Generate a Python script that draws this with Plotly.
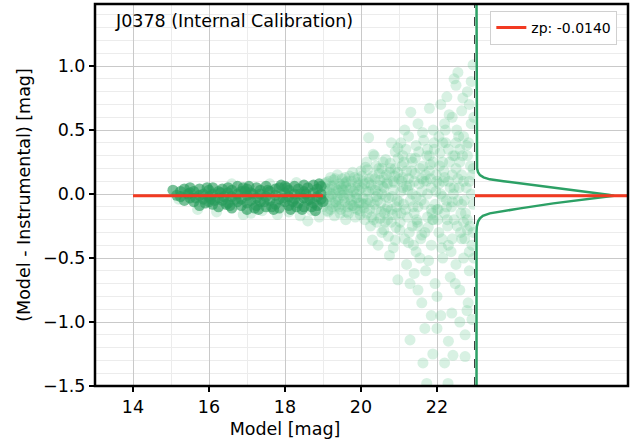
import plotly.graph_objects as go

# zero point of the calibration
zp = -0.0140
zp_mag_range = [14, 19]
mag_cut = 23

# bright stars used for the fit (dark points)
dark_mag = [15.05, 15.25, 15.25, 15.35, 15.35, 15.5, 15.5, 15.5, 15.6, 15.6,
            15.75, 15.75, 15.75, 15.85, 15.85, 16.0, 16.0, 16.0, 16.1, 16.1,
            16.1, 16.25, 16.25, 16.25, 16.35, 16.35, 16.5, 16.5, 16.5, 16.6,
            16.6, 16.6, 16.75, 16.75, 16.75, 16.85, 16.85, 16.85, 17.0, 17.0,
            17.0, 17.0, 17.1, 17.1, 17.25, 17.25, 17.25, 17.35, 17.35, 17.35,
            17.5, 17.5, 17.5, 17.6, 17.6, 17.75, 17.75, 17.75, 17.85, 17.85,
            17.85, 18.0, 18.0, 18.0, 18.1, 18.1, 18.1, 18.25, 18.25, 18.25,
            18.35, 18.35, 18.5, 18.5, 18.5, 18.5, 18.6, 18.6, 18.75, 18.75,
            18.75, 18.85, 18.85, 18.85, 18.95, 18.95, 18.95,
            15.15, 15.45, 15.65, 15.95, 16.05, 16.3, 16.45, 16.7, 16.95, 17.05,
            17.2, 17.45, 17.55, 17.7, 17.95, 18.05, 18.2, 18.45, 18.55, 18.7,
            18.9, 19.0, 16.15, 16.55, 16.9, 17.3, 17.65, 18.15, 18.4, 18.8,
            15.9, 16.4, 17.15, 17.9, 18.3, 18.65]
dark_dmag = [0.03, 0.02, -0.02, 0.04, -0.05, 0.01, -0.03, 0.05, -0.06, 0.02,
             0.04, -0.01, -0.09, 0.0, -0.04, 0.03, -0.02, -0.06, 0.05, -0.08,
             0.0, -0.03, 0.02, -0.1, 0.04, -0.05, 0.01, -0.07, 0.05, -0.02,
             -0.11, 0.03, 0.0, -0.06, 0.06, -0.04, 0.02, -0.09, 0.04, -0.01,
             -0.07, -0.12, 0.01, -0.05, 0.05, -0.03, -0.09, 0.0, -0.06, 0.03,
             -0.02, 0.06, -0.1, 0.02, -0.05, -0.08, 0.04, -0.01, 0.05, -0.04,
             -0.11, 0.01, -0.06, 0.06, -0.02, 0.03, -0.09, 0.06, -0.04, 0.0,
             -0.07, 0.04, 0.02, -0.03, 0.07, -0.1, -0.05, 0.05, 0.01, -0.07,
             0.07, -0.02, 0.04, -0.09, 0.06, -0.04, 0.0,
             -0.01, 0.0, -0.03, 0.05, -0.04, 0.01, -0.08, -0.04, 0.02, 0.06,
             -0.11, -0.06, 0.03, -0.12, -0.03, 0.05, -0.06, -0.12, 0.0, -0.1,
             0.08, -0.06, -0.05, -0.09, 0.05, -0.12, -0.1, -0.12, 0.0, -0.13,
             -0.07, -0.02, 0.0, 0.07, -0.1, -0.04]

# all stars (light points)
light_mag = [15.2, 15.7, 16.2, 16.6, 17.1, 17.4, 17.8, 18.1, 18.4, 18.7, 18.9, 17.6, 18.3, 16.9, 18.6,
             19.05, 19.1, 19.15, 19.2, 19.25, 19.3, 19.35, 19.4, 19.45, 19.5, 19.55, 19.6, 19.65, 19.7,
             19.75, 19.8, 19.85, 19.9, 19.95, 19.3, 19.6, 19.2, 19.45, 19.75, 19.9, 19.1, 19.5, 19.85, 19.0,
             20.0, 20.05, 20.1, 20.15, 20.2, 20.2, 20.25, 20.3, 20.35, 20.4, 20.45, 20.5, 20.5, 20.55,
             20.6, 20.65, 20.7, 20.75, 20.8, 20.85, 20.9, 20.9, 20.95, 21.0, 20.15, 20.4, 20.6, 20.8,
             20.3, 20.7, 20.97, 20.97, 20.85, 20.55, 20.1, 20.65, 20.35, 20.75, 20.9, 20.45,
             21.05, 21.1, 21.1, 21.15, 21.2, 21.2, 21.25, 21.3, 21.31, 21.35, 21.35, 21.4, 21.45, 21.45,
             21.5, 21.5, 21.55, 21.6, 21.6, 21.65, 21.7, 21.7, 21.75, 21.8, 21.8, 21.85, 21.85, 21.9,
             21.95, 21.95, 21.29, 21.29, 21.63, 21.73, 21.6, 21.4, 21.15, 21.55, 21.75, 21.25, 21.9,
             21.05, 21.5, 21.85, 21.89, 21.68,
             22.0, 22.0, 22.05, 22.05, 22.1, 22.1, 22.15, 22.15, 22.2, 22.2, 22.2, 22.26, 22.3, 22.3,
             22.35, 22.35, 22.39, 22.4, 22.4, 22.42, 22.45, 22.5, 22.5, 22.5, 22.55, 22.55, 22.6, 22.6,
             22.65, 22.65, 22.7, 22.7, 22.74, 22.74, 22.75, 22.79, 22.8, 22.8, 22.85, 22.85, 22.9, 22.9,
             22.92, 22.95, 22.95, 22.95, 22.29, 22.0, 22.45, 22.6, 22.9, 22.3, 22.85, 22.1, 22.5, 22.25,
             22.7, 22.8, 22.15, 22.65, 22.4,
             19.15, 19.35, 19.55, 19.7, 19.95, 20.05, 20.25, 20.45, 20.65, 20.85, 21.05, 21.25, 21.45,
             21.65, 21.85, 22.05, 22.25, 22.45, 22.65, 22.85, 19.25, 19.65, 20.15, 20.55, 20.95, 21.35,
             21.75, 22.15, 22.55, 22.95,
             19.05, 19.12, 19.18, 19.22, 19.28, 19.33, 19.38, 19.42, 19.48, 19.52, 19.58, 19.62, 19.68,
             19.72, 19.78, 19.82, 19.88, 19.92, 19.98,
             20.02, 20.08, 20.12, 20.18, 20.22, 20.28, 20.32, 20.38, 20.42, 20.48, 20.52, 20.58, 20.62,
             20.68, 20.72, 20.78, 20.82, 20.88, 20.92, 20.98,
             21.02, 21.08, 21.12, 21.18, 21.22, 21.28, 21.32, 21.38, 21.42, 21.48, 21.52, 21.58, 21.62,
             21.68, 21.72, 21.78, 21.82, 21.88, 21.92, 21.98,
             22.02, 22.08, 22.12, 22.18, 22.22, 22.28, 22.32, 22.38, 22.42, 22.48, 22.52, 22.58, 22.62,
             22.68, 22.72, 22.78, 22.82, 22.88, 22.92, 22.97,
             19.4, 19.6, 19.8, 20.0, 20.2, 20.4, 20.6, 20.8, 21.0, 21.2, 21.4, 21.6, 21.8, 22.0, 22.2,
             22.4, 22.6, 22.8, 19.5, 19.9, 20.3, 20.7, 21.1, 21.5, 21.9, 22.3, 22.7,
             19.03, 19.08, 19.13, 19.17, 19.23, 19.27, 19.32, 19.37, 19.43, 19.47, 19.53, 19.57, 19.63,
             19.67, 19.73, 19.77, 19.83, 19.87, 19.93, 19.97,
             20.03, 20.07, 20.13, 20.17, 20.23, 20.27, 20.33, 20.37, 20.43, 20.47, 20.53, 20.57, 20.63,
             20.67, 20.73, 20.77, 20.83, 20.87, 20.93, 20.97,
             21.03, 21.07, 21.13, 21.17, 21.23, 21.27, 21.33, 21.37, 21.43, 21.47, 21.53, 21.57, 21.63,
             21.67, 21.73, 21.77, 21.83, 21.87, 21.93, 21.97,
             22.03, 22.07, 22.13, 22.17, 22.23, 22.27, 22.33, 22.37, 22.43, 22.47, 22.53, 22.57, 22.63,
             22.67, 22.73, 22.77, 22.83, 22.87, 22.93, 22.97]
light_dmag = [-0.04, -0.12, -0.14, 0.08, -0.15, -0.13, -0.16, -0.14, -0.17, -0.13, -0.18, 0.08, 0.09, -0.16, -0.21,
              0.05, -0.06, 0.1, -0.12, 0.0, 0.07, -0.09, 0.03, -0.15, 0.12, -0.03, 0.06, -0.1, 0.14,
              -0.05, 0.02, -0.18, 0.09, -0.07, -0.17, -0.2, 0.13, 0.01, 0.1, -0.12, 0.02, -0.08, 0.05, -0.1,
              0.18, -0.03, 0.08, -0.15, 0.44, 0.02, -0.25, 0.14, -0.08, 0.22, 0.0, -0.19, 0.11, -0.3,
              0.05, 0.27, -0.1, 0.17, -0.22, 0.03, 0.33, -0.36, -0.05, 0.12, 0.25, -0.12, -0.28, 0.4,
              -0.36, 0.08, 0.36, -0.67, -0.42, 0.2, -0.2, -0.02, 0.3, -0.48, 0.2, -0.4,
              -0.15, 0.3, 0.05, -0.35, 0.18, -0.55, 0.45, -0.05, 0.64, 0.25, -0.25, 0.1, -0.45, 0.38,
              -0.1, 0.55, 0.2, -0.32, 0.02, 0.42, -0.6, 0.15, -0.18, 0.67, 0.3, -0.4, 0.05, 0.5,
              -0.08, -0.7, -0.7, -1.14, -1.32, -1.48, -0.85, -0.62, 0.5, -0.5, 0.35, -0.38, 0.25,
              0.4, -0.75, -0.95, -1.25, -1.05,
              0.1, -0.8, 0.45, -0.3, 0.0, 0.7, -0.5, 0.25, -0.15, 0.55, -1.32, 0.76, 0.35, -0.4,
              0.05, -0.65, -0.93, 0.6, 0.15, -1.26, -0.2, 0.85, 0.4, -0.55, 0.95, -0.05, 0.25, -0.75,
              0.65, -0.35, 0.1, 0.45, -1.1, -1.27, -0.15, -0.91, 0.8, 0.3, -0.45, -0.6, 0.55, 0.0,
              -0.98, 1.01, 0.2, -0.3, -1.48, -1.05, 0.9, -1.0, 0.88, -1.15, 0.7, -0.95, 0.2, -0.05,
              -0.5, -0.2, 0.4, 0.15, -0.35,
              -0.02, 0.04, 0.08, -0.02, 0.03, 0.1, -0.06, 0.07, -0.12, 0.1, 0.02, 0.12, -0.02,
              0.1, -0.12, 0.08, -0.1, 0.05, -0.08, 0.1, -0.1, 0.0, -0.07, 0.0, -0.15, 0.0,
              0.0, -0.02, 0.12, -0.08,
              0.08, -0.13, 0.04, -0.02, 0.11, -0.06, 0.15, -0.1, 0.06, -0.01, 0.13, -0.14, 0.03,
              -0.08, 0.17, -0.11, 0.0, 0.12, -0.16,
              0.05, -0.11, 0.21, -0.04, 0.12, -0.18, 0.31, 0.03, -0.22, 0.16, -0.07, 0.25, -0.15,
              0.09, -0.33, 0.2, -0.02, 0.14, -0.26, 0.28,
              -0.28, 0.22, -0.08, 0.35, -0.18, 0.07, 0.28, -0.4, 0.16, -0.22, 0.33, -0.05, 0.48,
              -0.3, 0.1, -0.52, 0.23, -0.2, 0.4, 0.15,
              -0.2, 0.32, -0.42, 0.18, 0.5, -0.25, 0.62, -0.1, 0.3, -0.7, 0.5, 0.05, -0.3,
              0.75, -0.05, 0.38, -0.85, 0.22, -0.4, 0.6,
              -0.04, 0.09, -0.09, -0.07, 0.09, -0.02, 0.13, -0.12, -0.06, 0.06, -0.15, 0.12, 0.18, -0.12, 0.13,
              -0.06, 0.35, -0.28, 0.04, -0.03, 0.04, -0.2, 0.13, -0.25, -0.2, 0.1, -0.22,
              -0.05, 0.09, -0.14, 0.01, 0.06, -0.07, 0.12, -0.02, 0.08, -0.12, 0.03, -0.06, 0.1,
              -0.15, 0.05, -0.09, 0.13, -0.03, 0.07, -0.13,
              0.14, -0.08, 0.02, 0.19, -0.12, 0.07, -0.2, 0.12, -0.05, 0.2, -0.14, 0.06, -0.22,
              0.15, -0.03, 0.24, -0.16, 0.09, -0.1, 0.17,
              -0.22, 0.1, 0.25, -0.12, 0.03, -0.3, 0.18, -0.1, 0.28, -0.2, 0.08, -0.35, 0.22,
              -0.08, 0.3, -0.26, 0.12, -0.15, 0.35, 0.02,
              -0.12, 0.22, -0.35, 0.1, 0.4, -0.2, 0.25, -0.45, 0.0, 0.3, -0.25, 0.45, -0.15,
              0.3, -0.35, 0.05, 0.4, -0.25, 0.15, -0.5]

# distribution of residuals (side panel)
dist_dmag = [1.485, 0.26, 0.2, 0.17, 0.148, 0.13, 0.115, 0.1, 0.084, 0.052, 0.021, -0.005, -0.014,
             -0.025, -0.034, -0.073, -0.112, -0.13, -0.151, -0.17, -0.19, -0.215, -0.255, -0.3, -1.5]
dist_dens = [0.004, 0.004, 0.008, 0.015, 0.029, 0.055, 0.1, 0.2, 0.32, 0.56, 0.8, 0.96, 1.0,
             0.92, 0.83, 0.56, 0.32, 0.2, 0.1, 0.05, 0.029, 0.015, 0.006, 0.004, 0.004]

FONT = "DejaVu Sans"
green = "#2ca065"
red = "#f23a22"

fig = go.Figure()

fig.add_trace(go.Scatter(x=light_mag, y=light_dmag, mode="markers", showlegend=False,
                         marker=dict(size=11, color="rgba(100,200,145,0.25)", line=dict(width=0)),
                         xaxis="x", yaxis="y"))
fig.add_trace(go.Scatter(x=dark_mag, y=dark_dmag, mode="markers", showlegend=False,
                         marker=dict(size=11, color="rgba(38,155,90,0.62)", line=dict(width=0)),
                         xaxis="x", yaxis="y"))
fig.add_trace(go.Scatter(x=zp_mag_range, y=[zp, zp], mode="lines", name=f"zp: {zp:.4f}",
                         line=dict(color=red, width=3), xaxis="x", yaxis="y"))

# side panel
fig.add_trace(go.Scatter(x=dist_dens, y=dist_dmag, mode="lines", showlegend=False,
                         line=dict(color=green, width=2.5), xaxis="x2", yaxis="y2"))
fig.add_trace(go.Scatter(x=[-0.01, 1.2], y=[zp, zp], mode="lines", showlegend=False,
                         line=dict(color=red, width=3), xaxis="x2", yaxis="y2"))

split = 380 / 533
grid_major = "#c9c9c9"
grid_minor = "#ececec"
yrange = [-1.5, 1.485]
tickfont = dict(family=FONT, size=17.5, color="black")

fig.update_layout(
    width=641, height=442,
    margin=dict(l=95, r=13, t=4, b=56),
    paper_bgcolor="white", plot_bgcolor="white",
    font=dict(family=FONT, size=17.5, color="black"),
    xaxis=dict(domain=[0, split], range=[13, 23], tick0=14, dtick=2, tickfont=tickfont,
               ticks="outside", ticklen=5, tickwidth=1.5, tickcolor="black",
               showgrid=True, gridcolor=grid_major, gridwidth=1, zeroline=False,
               minor=dict(dtick=1, tick0=13, showgrid=True, gridcolor=grid_minor, ticks=""),
               title=dict(text="Model [mag]", standoff=6, font=dict(family=FONT, size=17.5)),
               automargin=False),
    yaxis=dict(range=yrange, tick0=0, dtick=0.5, tickformat=".1f", tickfont=tickfont,
               ticks="outside", ticklen=5, tickwidth=1.5, tickcolor="black",
               showgrid=True, gridcolor=grid_major, gridwidth=1, zeroline=False,
               minor=dict(dtick=0.1, showgrid=True, gridcolor=grid_minor, ticks=""),
               title=dict(text="(Model - Instrumental) [mag]", standoff=7,
                          font=dict(family=FONT, size=17.5)),
               automargin=False),
    xaxis2=dict(domain=[split, 1], range=[-0.007, 1.101], showgrid=False, zeroline=False,
                showticklabels=False, ticks="", anchor="y2"),
    yaxis2=dict(range=yrange, anchor="x2", matches="y", tick0=0, dtick=0.5,
                showticklabels=False, ticks="", showgrid=True, gridcolor=grid_major, gridwidth=1,
                zeroline=False,
                minor=dict(dtick=0.1, showgrid=True, gridcolor=grid_minor, ticks="")),
    legend=dict(x=0.98, y=0.982, xanchor="right", yanchor="top", bgcolor="white",
                bordercolor="#d0d0d0", borderwidth=1, font=dict(size=14), itemwidth=30),
    annotations=[dict(text="J0378 (Internal Calibration)", xref="paper", yref="paper",
                      x=0.034, y=0.955, xanchor="left", yanchor="middle", showarrow=False,
                      font=dict(size=17.5))],
    shapes=[
        dict(type="line", xref="x", yref="paper", x0=mag_cut, x1=mag_cut, y0=0, y1=1,
             line=dict(color="black", width=1.5, dash="dash"), layer="above"),
        dict(type="rect", xref="paper", yref="paper", x0=0, x1=1, y0=0, y1=1,
             line=dict(color="black", width=2.5), layer="above"),
    ],
)

fig.write_html("out.html", config={"displayModeBar": False},
               post_script="document.body.style.margin='0px';")
